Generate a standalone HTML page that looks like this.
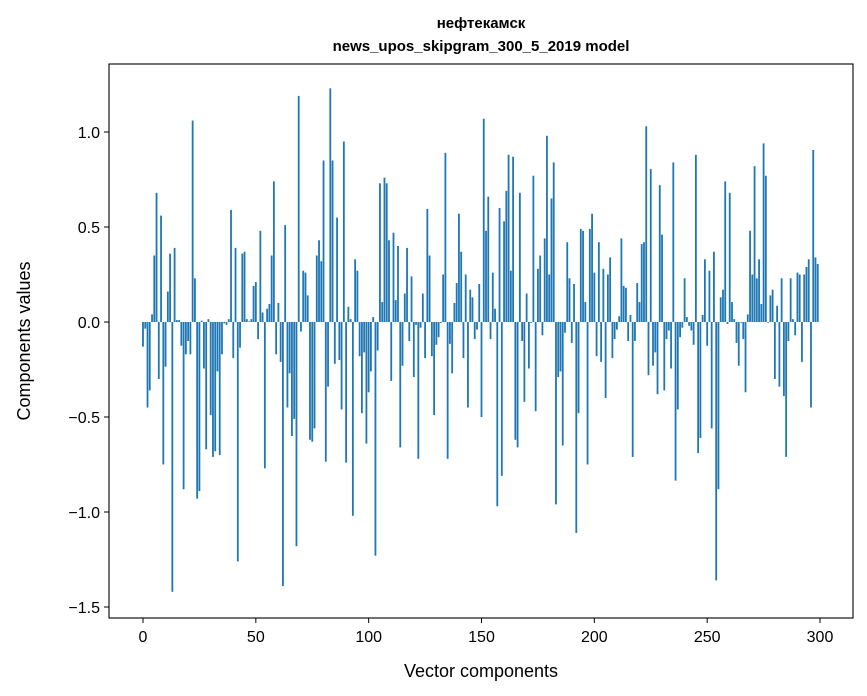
<!DOCTYPE html>
<html><head><meta charset="utf-8"><style>
html,body{margin:0;padding:0;background:#fff;}
svg{display:block;font-family:"Liberation Sans","DejaVu Sans",sans-serif;}
</style></head><body>
<svg id="chart" width="867" height="696" viewBox="0 0 867 696" xmlns="http://www.w3.org/2000/svg">
<rect x="0" y="0" width="867" height="696" fill="#fff"/>
<text x="481" y="28" text-anchor="middle" font-size="15" font-weight="bold">нефтекамск</text>
<text x="481" y="51" text-anchor="middle" font-size="15" font-weight="bold">news_upos_skipgram_300_5_2019 model</text>
<g id="bars"></g>
<g id="axes"></g>
<text x="481" y="677" text-anchor="middle" font-size="18">Vector components</text>
<text transform="translate(30,341) rotate(-90)" text-anchor="middle" font-size="18">Components values</text>
</svg>
<script>
var categories = [];
for (var k = 0; k < 300; k++) categories.push(k);
var values = [
-0.13,-0.035,-0.45,-0.36,0.04,0.35,0.68,-0.30,0.56,-0.75,
-0.235,0.16,0.36,-1.42,0.39,0.01,0.01,-0.125,-0.88,-0.17,
-0.10,-0.17,1.06,0.23,-0.93,-0.89,0.007,-0.245,-0.67,0.015,
-0.49,-0.71,-0.68,-0.26,-0.70,-0.17,-0.007,-0.015,0.015,0.59,
-0.19,0.39,-1.26,-0.135,0.36,0.37,0.015,0.003,0.015,0.19,
0.21,-0.09,0.48,0.05,-0.77,0.07,0.095,0.35,0.74,-0.17,
0.10,-0.21,-1.39,0.51,-0.45,-0.27,-0.60,-0.51,-1.18,1.19,
-0.05,0.27,0.26,0.14,-0.62,-0.63,-0.56,0.35,0.43,0.32,
0.85,-0.735,-0.34,1.23,0.85,-0.22,0.55,-0.20,-0.46,0.95,
-0.74,0.08,0.015,-1.02,0.33,0.27,-0.18,-0.48,-0.16,-0.64,
-0.37,-0.26,0.026,-1.23,-0.15,0.73,0.105,0.76,0.73,0.43,
-0.31,0.47,0.115,0.40,-0.66,-0.23,0.15,0.39,-0.10,0.24,
-0.29,-0.015,-0.72,-0.03,0.15,-0.19,0.595,0.35,-0.18,-0.49,
-0.12,-0.08,-0.005,0.25,0.89,-0.72,-0.115,-0.27,0.10,0.205,
0.57,0.37,-0.19,0.25,-0.45,0.17,0.13,-0.09,-0.04,0.20,
-0.50,1.07,0.48,0.66,-0.09,0.26,0.07,-0.97,0.60,-0.81,
0.53,0.69,0.88,0.27,0.87,-0.62,-0.66,0.68,-0.10,-0.42,
0.15,-0.245,-0.005,0.77,-0.47,0.28,0.35,-0.07,0.44,0.98,
0.25,0.65,0.84,-0.96,-0.29,-0.26,-0.65,-0.056,0.42,0.23,
-0.11,0.20,-1.11,-0.48,0.49,0.48,0.105,-0.75,0.49,0.57,
0.26,-0.18,0.42,-0.21,0.28,-0.40,0.25,0.34,-0.19,-0.09,
-0.04,0.03,0.44,0.19,0.18,-0.10,0.037,-0.71,-0.10,0.205,
0.105,0.41,0.42,1.03,-0.28,0.805,-0.23,-0.16,-0.38,0.72,
0.46,-0.36,-0.09,-0.045,-0.245,0.84,-0.835,-0.46,-0.08,-0.03,
0.23,0.026,-0.02,-0.045,-0.12,0.88,-0.69,-0.61,0.037,0.33,
-0.125,0.27,-0.56,0.37,-1.36,-0.88,0.13,0.17,0.74,-0.01,
0.68,0.105,0.015,-0.11,-0.23,-0.004,-0.09,-0.37,0.04,0.48,
0.25,0.82,0.23,0.33,0.095,0.94,0.77,-0.004,0.14,0.17,
-0.30,0.085,-0.34,0.23,-0.39,-0.71,-0.10,0.23,0.015,-0.07,
0.26,0.25,-0.21,0.25,0.29,0.33,-0.45,0.905,0.34,0.305
];
var xTicks = [0,50,100,150,200,250,300];
var yTicks = [-1.5,-1.0,-0.5,0.0,0.5,1.0];
var yTickLabels = ["\u22121.5","\u22121.0","\u22120.5","0.0","0.5","1.0"];

var L=109,R=853,T=64,B=618;
function xs(v){return 143+(v)*(820-143)/300;}
function ys(v){return 322-v*190;}
var NS="http://www.w3.org/2000/svg";
var bars=document.getElementById('bars');
var bw=0.8*(820-143)/300;
for(var i=0;i<values.length;i++){
  var v=values[i];
  var r=document.createElementNS(NS,'rect');
  var y0=ys(Math.max(v,0)), y1=ys(Math.min(v,0));
  r.setAttribute('x',xs(categories[i])-bw/2);
  r.setAttribute('y',y0);
  r.setAttribute('width',bw);
  r.setAttribute('height',Math.max(y1-y0,0.3));
  r.setAttribute('fill','#1f77b4');
  
  
  bars.appendChild(r);
}
var axes=document.getElementById('axes');
var frame=document.createElementNS(NS,'rect');
frame.setAttribute('x',L);frame.setAttribute('y',T);frame.setAttribute('width',R-L);frame.setAttribute('height',B-T);
frame.setAttribute('fill','none');frame.setAttribute('stroke','#000');frame.setAttribute('stroke-width','1.1');


axes.appendChild(frame);
xTicks.forEach(function(t){
  var x=xs(t);
  var l=document.createElementNS(NS,'line');
  l.setAttribute('x1',x);l.setAttribute('x2',x);l.setAttribute('y1',B);l.setAttribute('y2',B+5);l.setAttribute('stroke','#000');
  
  
  axes.appendChild(l);
  var tx=document.createElementNS(NS,'text');
  tx.setAttribute('x',x);tx.setAttribute('y',B+24);tx.setAttribute('text-anchor','middle');tx.setAttribute('font-size','16');
  tx.textContent=t;
  
  
  axes.appendChild(tx);
});
yTicks.forEach(function(t,j){
  var y=ys(t);
  var l=document.createElementNS(NS,'line');
  l.setAttribute('x1',L-5);l.setAttribute('x2',L);l.setAttribute('y1',y);l.setAttribute('y2',y);l.setAttribute('stroke','#000');
  
  
  axes.appendChild(l);
  var tx=document.createElementNS(NS,'text');
  tx.setAttribute('x',L-9);tx.setAttribute('y',y+6);tx.setAttribute('text-anchor','end');tx.setAttribute('font-size','16');
  tx.textContent=yTickLabels[j];
  
  
  axes.appendChild(tx);
});
</script>
</body></html>
